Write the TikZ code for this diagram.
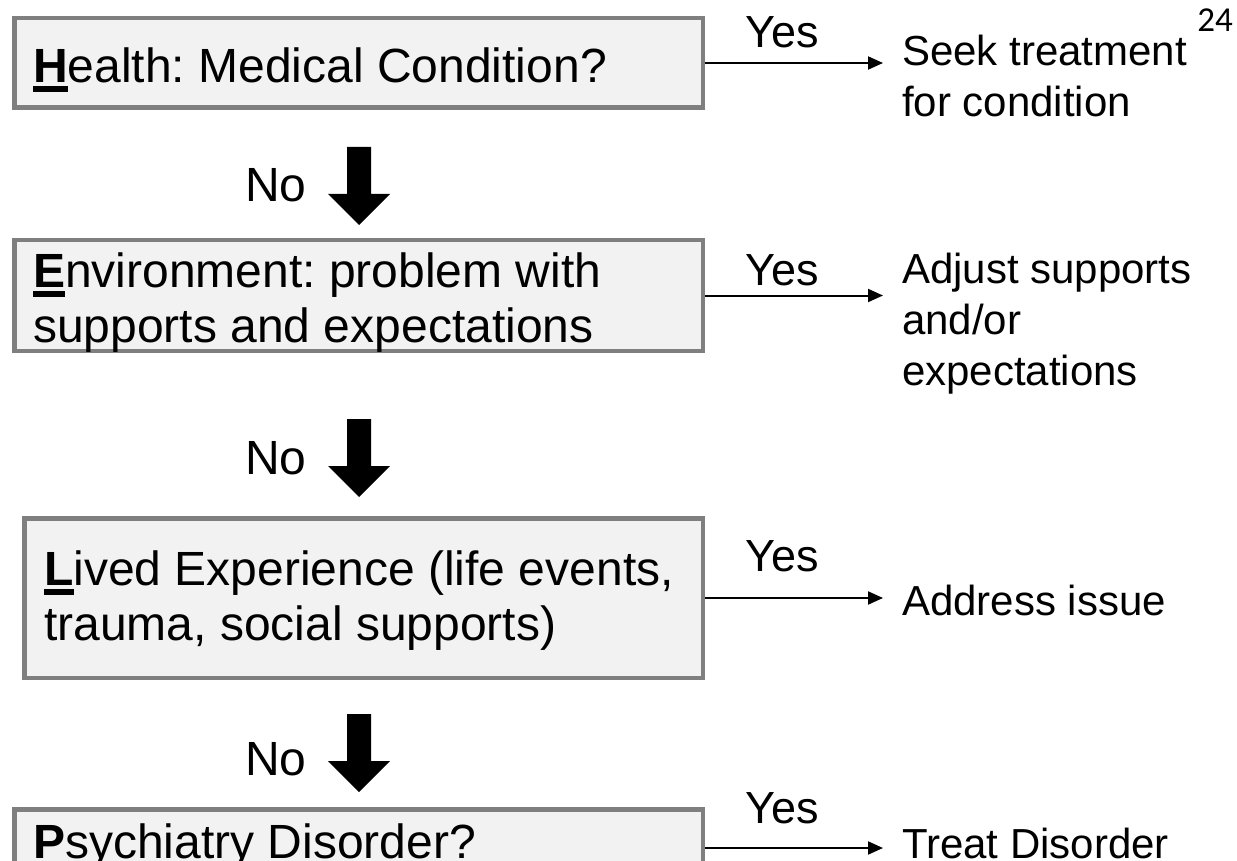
\documentclass[tikz,border=0pt]{standalone}
\usepackage{fontspec}
\setmainfont{Liberation Sans}
\newfontfamily\pagenumfont{Carlito}
\usetikzlibrary{arrows.meta}
\frenchspacing

\definecolor{boxfill}{HTML}{F2F2F2}
\definecolor{boxline}{HTML}{7F7F7F}

% bold initial with a heavy underline
\newcommand{\keyletter}[1]{\setbox0\hbox{\bfseries #1}\rlap{\rule[-0.19em]{\wd0}{0.125em}}\box0}

% solid downward block arrow with its tip at (#1,#2)
\newcommand{\noarrow}[2]{%
  \fill[black] (#1-12,#2-78) -- (#1+12,#2-78) -- (#1+12,#2-31) -- (#1+31,#2-31)
    -- (#1,#2) -- (#1-31,#2-31) -- (#1-12,#2-31) -- cycle;}

\tikzset{
  stepbox/.style={draw=boxline, fill=boxfill, line width=4.5pt, inner sep=0pt,
    minimum width=688.5pt},
  boxtext/.style={inner sep=0pt, font=\fontsize{48}{55}\selectfont, align=left},
  notext/.style={inner sep=0pt, anchor=base west, font=\fontsize{48}{55}\selectfont},
  yestext/.style={inner sep=0pt, anchor=base west, font=\fontsize{45}{50}\selectfont},
  outcome/.style={inner xsep=19pt, inner ysep=0pt, outer sep=0pt,
    font=\fontsize{42}{51}\selectfont, align=left},
  yesarrow/.style={-{Triangle[length=15pt,width=13pt]}, line width=2pt},
}

\begin{document}
\begin{tikzpicture}[x=1pt, y=-1pt]
  \useasboundingbox (0,0) rectangle (1237,861);
  \clip (0,0) rectangle (1237,861);

  % question boxes
  \node[stepbox, minimum height=89.5pt] (h) at (358.5,63) {};
  \node[stepbox, minimum height=110.5pt] (e) at (358.5,295.5) {};
  \node[stepbox, minimum width=678.5pt, minimum height=159.5pt] (l) at (363.5,598) {};
  \node[stepbox, minimum height=77.5pt] (p) at (358.5,848) {};

  \node[boxtext, anchor=base west] (ht) at (33,83) {\keyletter{H}ealth: Medical Condition?};
  \node[boxtext, anchor=north west] (et) at (33,252.6)
    {\keyletter{E}nvironment: problem with\\supports and expectations};
  \node[boxtext, anchor=north west] (lt) at (44,550.6)
    {\keyletter{L}ived Experience (life events,\\trauma, social supports)};
  \node[boxtext, anchor=base west] (pt) at (33,858) {\keyletter{P}sychiatry Disorder?};

  % outcomes
  \node[outcome, anchor=north west] (seek) at (883,35) {Seek treatment\\for condition};
  \node[outcome, anchor=north west] (adjust) at (883,253)
    {Adjust supports\\and/or\\expectations};
  \node[outcome, anchor=base west] (address) at (883,615) {Address issue};
  \node[outcome, anchor=base west] (treat) at (883,858) {Treat Disorder};

  % yes branches
  \draw[yesarrow] (h.east) -- (h.east -| seek.west);
  \draw[yesarrow] (e.east) -- (e.east -| adjust.west);
  \draw[yesarrow] (l.east) -- (l.east -| address.west);
  \draw[yesarrow] (p.east) -- (p.east -| treat.west);

  \node[yestext] (y1) at (745,48) {Yes};
  \node[yestext] (y2) at (745,285) {Yes};
  \node[yestext] (y3) at (745,571) {Yes};
  \node[yestext] (y4) at (745,823) {Yes};

  % no branches
  \node[notext] (n1) at (245,202) {No};
  \node[notext] (n2) at (245,474) {No};
  \node[notext] (n3) at (245,775) {No};
  \noarrow{359}{225}
  \noarrow{359}{497}
  \noarrow{359}{792}

  % page number
  \node[inner sep=0pt, anchor=base east, font=\pagenumfont\fontsize{35}{35}\selectfont]
    (pagenum) at (1233,32) {24};
\end{tikzpicture}
\end{document}
